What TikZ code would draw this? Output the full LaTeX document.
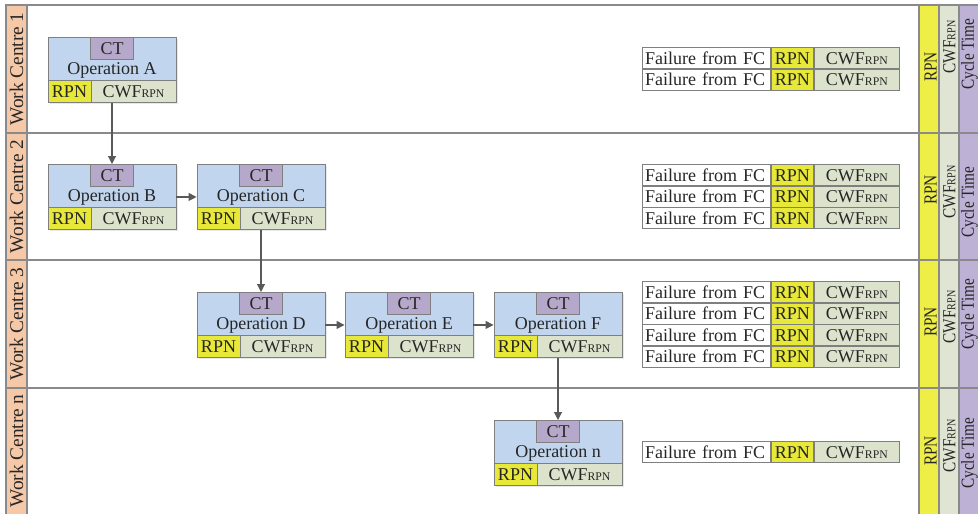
\documentclass[tikz,border=0pt]{standalone}
\usepackage{fontspec}
\setmainfont{Liberation Serif}
\usetikzlibrary{arrows.meta,shadows}

\definecolor{opblue}{HTML}{C1D6EE}
\definecolor{ctpurple}{HTML}{B6A8CB}
\definecolor{rpnyellow}{HTML}{E8E838}
\definecolor{cwfgreen}{HTML}{DCE3CD}
\definecolor{lanepeach}{HTML}{F5C9A8}
\definecolor{colyellow}{HTML}{EEEE46}
\definecolor{colgreen}{HTML}{DFE4D3}
\definecolor{colpurple}{HTML}{BDB1D6}
\definecolor{cellline}{HTML}{7F7F7F}
\definecolor{gridline}{HTML}{8A8A8A}
\definecolor{flowline}{HTML}{595959}
\definecolor{inktext}{HTML}{262626}

% CWF with the small-capital RPN index; argument = size of the index
\newcommand\cwfidx[1]{CWF{\fontsize{#1}{#1}\selectfont RPN}}
% column captions are set a little taller across the column
\newcommand\colcap[1]{\scalebox{1}[1.2]{#1}}

\tikzset{
  grid/.style={draw=gridline, line width=0.9pt},
  cell/.style={draw=cellline, line width=0.7pt, inner sep=0pt, text=inktext,
               font=\fontsize{13.5pt}{14pt}\selectfont},
  opbody/.style={cell, fill=opblue, minimum width=96pt, minimum height=48.75pt,
                 drop shadow={opacity=0.18, shadow xshift=1.2pt, shadow yshift=-1.2pt}},
  ctcell/.style={cell, fill=ctpurple, minimum width=32.25pt, minimum height=16.5pt},
  rpncell/.style={cell, fill=rpnyellow, minimum width=32.25pt, minimum height=16.5pt},
  cwfcell/.style={cell, fill=cwfgreen, minimum width=63.75pt, minimum height=16.5pt},
  optext/.style={inner sep=0pt, text=inktext, font=\fontsize{13.5pt}{14pt}\selectfont},
  failcell/.style={cell, fill=white, minimum width=96pt, minimum height=16.1pt,
                   text width=92pt, align=left},
  frpncell/.style={cell, fill=rpnyellow, minimum width=31.5pt, minimum height=16.1pt},
  fcwfcell/.style={cell, fill=cwfgreen, minimum width=63.75pt, minimum height=16.1pt},
  lanelabel/.style={rotate=90, inner sep=0pt, text=inktext,
                    font=\fontsize{14.5pt}{15pt}\selectfont},
  collabel/.style={rotate=90, inner sep=0pt, text=inktext,
                   font=\fontsize{11.5pt}{12pt}\selectfont},
  flow/.style={draw=flowline, line width=0.8pt,
               -{Triangle[length=6pt,width=6pt]}},
}

% operation box: name, centre x, top y, caption
\newcommand\opbox[4]{%
  \node[opbody, anchor=north] (#1) at (#2,#3) {};
  \node[ctcell, anchor=north] (#1-ct) at (#1.north) {CT};
  \node[rpncell, anchor=south west] (#1-rpn) at (#1.south west) {RPN};
  \node[cwfcell, anchor=south east] (#1-cwf) at (#1.south east) {\cwfidx{8.8pt}};
  \node[optext] (#1-lbl) at ([yshift=-0.6pt]#1.center) {#4};
}

% one row of a failure table: name, top y
\newcommand\failrow[2]{%
  \node[failcell, anchor=north west] (#1) at (642,#2) {Failure from FC};
  \node[frpncell, anchor=north west] (#1-rpn) at (#1.north east) {RPN};
  \node[fcwfcell, anchor=north west] (#1-cwf) at (#1-rpn.north east) {\cwfidx{8.8pt}};
}

\begin{document}
\begin{tikzpicture}[x=0.75pt, y=-0.75pt]
\useasboundingbox (0,0) rectangle (978,514);

% side columns
\fill[lanepeach] (6,5) rectangle (27,514);
\fill[colyellow] (919,5) rectangle (939,514);
\fill[colgreen] (939,5) rectangle (959,514);
\fill[colpurple] (959,5) rectangle (978,514);

% lane grid
\draw[grid] (6,514) -- (6,5) -- (978,5);
\foreach \y in {133,260,388} \draw[grid] (6,\y) -- (978,\y);
\foreach \x in {27,919,939,959} \draw[grid] (\x,5) -- (\x,514);

% lane names
\node[lanelabel] (wc1) at (16.5,69) {Work Centre 1};
\node[lanelabel] (wc2) at (16.5,196.5) {Work Centre 2};
\node[lanelabel] (wc3) at (16.5,324) {Work Centre 3};
\node[lanelabel] (wcn) at (16.5,451) {Work Centre n};

% lane totals
\node[collabel] (rpn1) at (930.5,67) {\colcap{RPN}};
\node[collabel] (cwf1) at (949.5,47) {\colcap{\cwfidx{7.6pt}}};
\node[collabel] (ct1)  at (969.5,54) {\colcap{Cycle Time}};
\node[collabel] (rpn2) at (930.5,190) {\colcap{RPN}};
\node[collabel] (cwf2) at (949.5,192) {\colcap{\cwfidx{7.6pt}}};
\node[collabel] (ct2)  at (969.5,202) {\colcap{Cycle Time}};
\node[collabel] (rpn3) at (930.5,322) {\colcap{RPN}};
\node[collabel] (cwf3) at (949.5,317) {\colcap{\cwfidx{7.6pt}}};
\node[collabel] (ct3)  at (969.5,314) {\colcap{Cycle Time}};
\node[collabel] (rpnn) at (930.5,451) {\colcap{RPN}};
\node[collabel] (cwfn) at (949.5,446) {\colcap{\cwfidx{7.6pt}}};
\node[collabel] (ctn)  at (969.5,453) {\colcap{Cycle Time}};

% operations
\opbox{opA}{112}{37}{Operation A}
\opbox{opB}{112}{164}{Operation B}
\opbox{opC}{261}{164}{Operation C}
\opbox{opD}{261}{292}{Operation D}
\opbox{opE}{409}{292}{Operation E}
\opbox{opF}{558}{292}{Operation F}
\opbox{opN}{558}{420}{Operation n}

% failure tables
\failrow{f1a}{47}
\failrow{f1b}{68.5}
\failrow{f2a}{164}
\failrow{f2b}{185.5}
\failrow{f2c}{207}
\failrow{f3a}{281}
\failrow{f3b}{302.5}
\failrow{f3c}{324}
\failrow{f3d}{345.5}
\failrow{fna}{441}

% process flow
\draw[flow] (opA) -- (opB);
\draw[flow] (opB) -- (opC);
\draw[flow] (opC) -- (opD);
\draw[flow] (opD) -- (opE);
\draw[flow] (opE) -- (opF);
\draw[flow] (opF) -- (opN);
\end{tikzpicture}
\end{document}
